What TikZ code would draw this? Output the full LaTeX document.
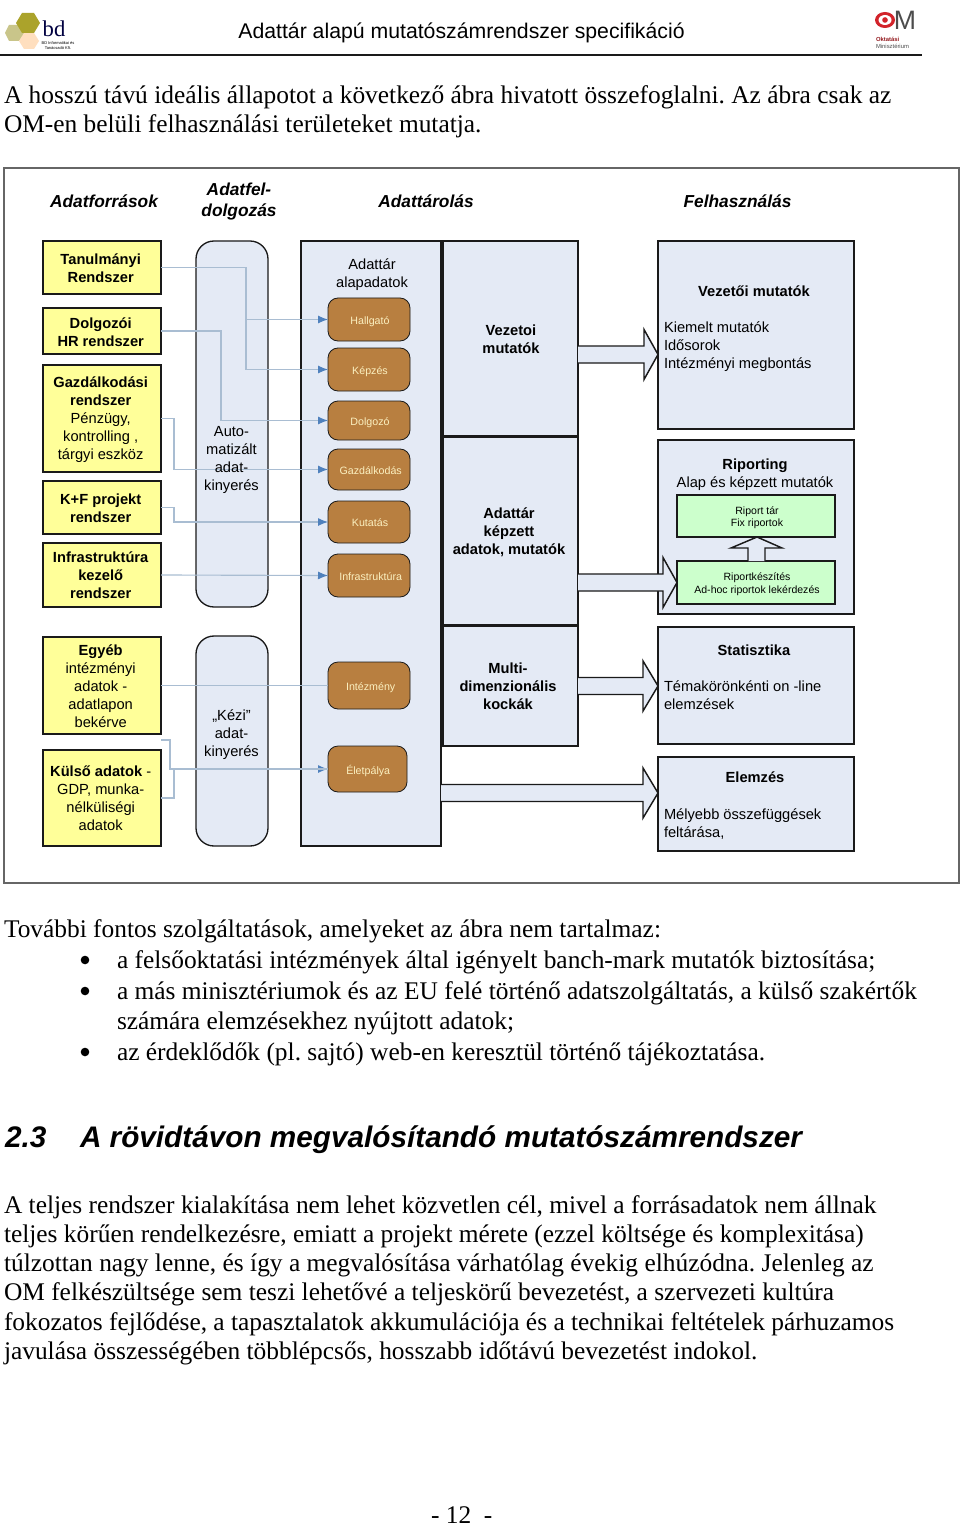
\documentclass[tikz,border=0pt]{standalone}
\usepackage{fontspec}
\setmainfont{Liberation Serif}
\newfontfamily\arial{Liberation Sans}
\usetikzlibrary{arrows.meta,calc}
\frenchspacing
\definecolor{paneblue}{HTML}{E4EAF5}
\definecolor{srcyellow}{HTML}{FFFF99}
\definecolor{repgreen}{HTML}{CCFFCC}
\definecolor{tablebrown}{HTML}{B87F40}
\definecolor{labelcream}{HTML}{FBF0C0}
\definecolor{linkgrey}{HTML}{A9BDD2}
\definecolor{tipblue}{HTML}{4F81BD}
\definecolor{edge}{HTML}{1A1A1A}
\definecolor{omred}{HTML}{D2232A}
\tikzset{
  x=0.75pt,y=-0.75pt,
  box/.style={draw=edge,line width=1.1pt,inner sep=0pt,outer sep=0pt,align=center},
  src/.style={box,fill=srcyellow},
  srctext/.style={txt},
  pane/.style={box,fill=paneblue},
  pill/.style={box,fill=paneblue,rounded corners=13.5pt,line width=1pt},
  tablebox/.style={box,fill=tablebrown,rounded corners=7.5pt,line width=.6pt},
  tabletext/.style={txt,text=labelcream,font=\arial\fontsize{8}{9}\selectfont},
  greenbox/.style={box,fill=repgreen},
  greentext/.style={txt,font=\arial\fontsize{7.9}{9.4}\selectfont},
  txt/.style={inner sep=0pt,outer sep=0pt,align=center,font=\arial\fontsize{11}{13.5}\selectfont},
  txtl/.style={txt,align=left,anchor=west},
  head/.style={txt,font=\arial\bfseries\itshape\fontsize{13}{15.75}\selectfont},
  link/.style={draw=linkgrey,line width=.85pt},
  linka/.style={link,-{Latex[length=7.5pt,width=6pt,color=tipblue]}},
  blk/.style={draw=edge,fill=paneblue,line width=1.1pt,line join=miter},
  body/.style={inner sep=0pt,outer sep=0pt,anchor=base west,font=\fontsize{19.05}{22}\selectfont},
  sect/.style={body,font=\arial\bfseries\itshape\fontsize{22.3}{26}\selectfont},
}
\newcommand\bx[7]{\node[#6,minimum width={(#4-#2)*0.75pt},minimum height={(#5-#3)*0.75pt}] (#1) at ({(#2+#4)/2},{(#3+#5)/2}) {#7};}
% box whose text sits a little off its centre: name x1 y1 x2 y2 box-style text-style dx,dy text
\newcommand\tbx[9]{\bx{#1}{#2}{#3}{#4}{#5}{#6}{}\tbxtext{#1}{#7}{#8}{#9}}
\newcommand\tbxtext[4]{\node[#2] (#1t) at ($(#1.center)+(#3)$) {#4};}
% right-pointing block arrow: from, y centre, head base x, tip x
\newcommand\blockR[4]{\draw[blk] (#1.east |- 0,{#2-8.5}) -- (#3,{#2-8.5}) -- (#3,{#2-25}) -- (#4,#2) -- (#3,{#2+25}) -- (#3,{#2+8.5}) -- (#1.east |- 0,{#2+8.5});}
\begin{document}
\begin{tikzpicture}
\useasboundingbox (0,0) rectangle (960,1526);
\fill[white] (0,0) rectangle (960,1526);
% header
\node[txt,font=\arial\fontsize{15.93}{18}\selectfont,anchor=base] (title) at (461.5,39) {Adattár alapú mutatószámrendszer specifikáció};
\coordinate (ruleL) at (0,55);\coordinate (ruleR) at (922,55);
\draw[edge,line width=1pt] (ruleL) -- (ruleR);
% left logo
\fill[black!22!olive!40!white] (9,25) -- (19,25) -- (25,33) -- (19,41) -- (9,41) -- (5,33) -- cycle;
\fill[orange!25!white] (24,33) -- (34,33) -- (39,41) -- (34,49) -- (24,49) -- (19,41) -- cycle;
\fill[olive!75!white] (22,13) -- (34,13) -- (40,23) -- (34,33) -- (22,33) -- (16,23) -- cycle;
\node[txt,font=\fontsize{17}{17}\selectfont,text=black!75!blue] (bdl) at (54,28.5) {bd};
\node[txt,font=\arial\fontsize{3}{3.6}\selectfont] (bdt) at (58,45.5) {BD Informatikai és\\Tanácsadó Kft.};
% right logo
\fill[omred] (885,20) ellipse (10 and 8);
\fill[white] (885,20) ellipse (6.5 and 5);
\fill[omred] (885,20) circle (2.8);
\node[txt,font=\arial\fontsize{20}{20}\selectfont,text=black!70] (oml) at (905,20) {M};
\node[txt,font=\arial\bfseries\fontsize{4.4}{5}\selectfont,text=omred!70!black,anchor=west] (omt1) at (876,39) {Oktatási};
\node[txt,font=\arial\fontsize{4.4}{5}\selectfont,text=black!70,anchor=west] (omt2) at (876,46.5) {Minisztérium};
% intro
\node[body] (p1) at (4,104) {A hosszú távú ideális állapotot a következő ábra hivatott összefoglalni. Az ábra csak az};
\node[body] (p2) at (4,133) {OM-en belüli felhasználási területeket mutatja.};
% frame
\bx{frame}{4}{168}{959}{883}{draw=black!60,line width=1.1pt,inner sep=0pt,outer sep=0pt}{}
% column heads
\node[head] (h1) at (104,201) {Adatforrások};
\node[head] (h2) at (239,202) {Adatfel-\\dolgozás};
\node[head] (h3) at (426,201) {Adattárolás};
\node[head] (h4) at (737.5,201) {Felhasználás};
% large panes
\bx{apane}{301}{241}{441}{846}{pane}{}
\bx{vez}{443}{241}{578}{436}{pane}{}
\bx{kep}{443}{437}{578}{625}{pane}{}
\bx{mul}{443}{626}{578}{746}{pane}{}
\bx{vm}{658}{241}{854}{429}{pane}{}
\bx{rip}{658}{440}{854}{614}{pane}{}
\bx{sta}{658}{627}{854}{744}{pane}{}
\bx{ele}{658}{757}{854}{851}{pane}{}
% pills
\bx{aut}{196}{241}{268}{607}{pill}{}
\bx{kez}{196}{636}{268}{846}{pill}{}
% sources
\tbx{tan}{43}{241}{161}{294}{src}{srctext}{-1.3,1}{\textbf{Tanulmányi}\\\textbf{Rendszer}}
\tbx{dol}{43}{308}{161}{354}{src}{srctext}{-1.3,1}{\textbf{Dolgozói}\\\textbf{HR rendszer}}
\tbx{gaz}{43}{365}{161}{472}{src}{srctext}{-1.3,1.5}{\textbf{Gazdálkodási}\\\textbf{rendszer}\\Pénzügy,\\kontrolling ,\\tárgyi eszköz}
\tbx{kf}{43}{481}{161}{534}{src}{srctext}{-1.3,1}{\textbf{K+F projekt}\\\textbf{rendszer}}
\tbx{inf}{43}{543}{161}{607}{src}{srctext}{-1.3,.3}{\textbf{Infrastruktúra}\\\textbf{kezelő}\\\textbf{rendszer}}
\tbx{egy}{43}{637}{161}{734}{src}{srctext}{-1.3,.3}{\textbf{Egyéb}\\intézményi\\adatok -\\adatlapon\\bekérve}
\tbx{kul}{43}{750}{161}{846}{src}{srctext}{-1.3,0}{\textbf{Külső adatok} -\\GDP, munka-\\nélküliségi\\adatok}
% tables
\tbx{thal}{328}{298}{410}{341}{tablebox}{tabletext}{1,1.8}{Hallgató}
\tbx{tkep}{328}{348}{410}{391}{tablebox}{tabletext}{1,1.8}{Képzés}
\tbx{tdol}{328}{401}{410}{440}{tablebox}{tabletext}{1,2.3}{Dolgozó}
\tbx{tgaz}{328}{449}{410}{490}{tablebox}{tabletext}{1.7,1.3}{Gazdálkodás}
\tbx{tkut}{328}{501}{410}{543}{tablebox}{tabletext}{1,.8}{Kutatás}
\tbx{tinf}{328}{554}{410}{597}{tablebox}{tabletext}{1.7,.8}{Infrastruktúra}
\tbx{tint}{328}{662}{410}{709}{tablebox}{tabletext}{1.7,2.3}{Intézmény}
\tbx{tele}{328}{746}{407}{792}{tablebox}{tabletext}{.7,1.8}{Életpálya}
% connectors
\draw[linka] (tan.east) -- (246,267.5) |- (thal.west);
\draw[linka] (246,319.5) |- (tkep.west);
\draw[linka] (dol.east) -- (221,331) |- (tdol.west);
\draw[linka] (gaz.east) -- (174,418.5) |- (tgaz.west);
\draw[linka] (kf.east) -- (174,507.5) |- (tkut.west);
\draw[linka] (inf.east) -- (tinf.west);
\draw[link] (egy.east) -- (tint.west);
\draw[linka] (kul.east) -- (174,798) |- (tele.west);
\draw[link] (egy.south east) ++(0,6) -- (170,740) |- (tele.west);
% pill texts, over the connectors
\node[txt] (autt) at (231.5,460) {Auto-\\matizált\\adat-\\kinyerés};
\node[txt] (kezt) at (231.5,735) {„Kézi”\\adat-\\kinyerés};
% pane texts
\node[txt] (t1) at (372,274.5) {Adattár\\alapadatok};
\node[txt] (t2) at (511,339) {\textbf{Vezetoi}\\\textbf{mutatók}};
\node[txt] (t3) at (509,532) {\textbf{Adattár}\\\textbf{képzett}\\\textbf{adatok, mutatók}};
\node[txt] (t4) at (508,686) {\textbf{Multi-}\\\textbf{dimenzionális}\\\textbf{kockák}};
\node[txt] (t5) at (754,291) {\textbf{Vezetői mutatók}};
\node[txtl] (t6) at (664,346.5) {Kiemelt mutatók\\Idősorok\\Intézményi megbontás};
\node[txt] (t7) at (755,475) {\textbf{Riporting}\\Alap és képzett mutatók};
\node[txt] (t8) at (754,650) {\textbf{Statisztika}};
\node[txtl] (t9) at (664,695) {Témakörönkénti on -line\\elemzések};
\node[txt] (t10) at (755,777) {\textbf{Elemzés}};
\node[txtl] (t11) at (664,824) {Mélyebb összefüggések\\feltárása,};
% block arrows
\blockR{vez}{354.5}{644}{658}
\blockR{kep}{582.5}{663}{677}
\blockR{mul}{686}{643}{658}
\blockR{apane}{793}{643}{658}
% green boxes
\tbx{gr1}{677}{495}{835}{537}{greenbox}{greentext}{1,1.5}{Riport tár\\Fix riportok}
\tbx{gr2}{677}{561}{835}{604}{greenbox}{greentext}{1,1.5}{Riportkészítés\\Ad-hoc riportok lekérdezés}
\draw[blk] (gr2.north -| 748,0) -- (748,548) -- (731,548) -- (757,537) -- (782,548) -- (765,548) -- (gr2.north -| 765,0);
% lower text
\node[body] (q0) at (4,937) {További fontos szolgáltatások, amelyeket az ábra nem tartalmaz:};
\fill (85,960) circle (4.3);
\node[body] (q1) at (117,968) {a felsőoktatási intézmények által igényelt banch-mark mutatók biztosítása;};
\fill (85,991) circle (4.3);
\node[body] (q2) at (117,999) {a más minisztériumok és az EU felé történő adatszolgáltatás, a külső szakértők};
\node[body] (q3) at (117,1029) {számára elemzésekhez nyújtott adatok;};
\fill (85,1052) circle (4.3);
\node[body] (q4) at (117,1060) {az érdeklődők (pl. sajtó) web-en keresztül történő tájékoztatása.};
\node[sect] (s1) at (5,1147) {2.3};
\node[sect] (s2) at (80,1147) {A rövidtávon megvalósítandó mutatószámrendszer};
\node[body] (r1) at (4,1213) {A teljes rendszer kialakítása nem lehet közvetlen cél, mivel a forrásadatok nem állnak};
\node[body] (r2) at (4,1242) {teljes körűen rendelkezésre, emiatt a projekt mérete (ezzel költsége és komplexitása)};
\node[body] (r3) at (4,1271) {túlzottan nagy lenne, és így a megvalósítása várhatólag évekig elhúzódna. Jelenleg az};
\node[body] (r4) at (4,1300) {OM felkészültsége sem teszi lehetővé a teljeskörű bevezetést, a szervezeti kultúra};
\node[body] (r5) at (4,1330) {fokozatos fejlődése, a tapasztalatok akkumulációja és a technikai feltételek párhuzamos};
\node[body] (r6) at (4,1359) {javulása összességében többlépcsős, hosszabb időtávú bevezetést indokol.};
\node[body] (pg) at (431,1523) {- 12 \ -};
\end{tikzpicture}
\end{document}
